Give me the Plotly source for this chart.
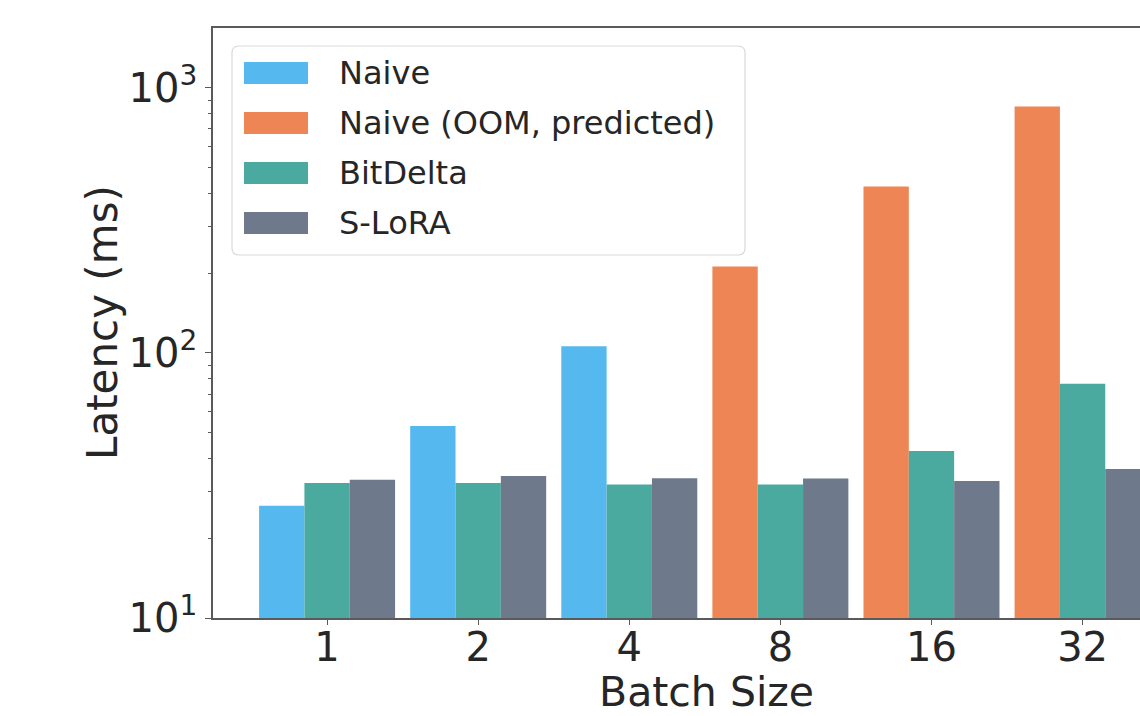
import plotly.graph_objects as go

batch_sizes = ["1", "2", "4", "8", "16", "32"]
naive = [26.5, 53.0, 106.0, None, None, None]
naive_oom = [None, None, None, 212.0, 425.0, 850.0]
bitdelta = [32.3, 32.3, 31.9, 31.9, 42.7, 76.5]
slora = [33.2, 34.3, 33.7, 33.6, 32.9, 36.5]

series_names = ["Naive", "Naive (OOM, predicted)", "BitDelta", "S-LoRA"]
series_colors = ["#55B9F0", "#EE8555", "#4BAA9F", "#6E7A8C"]

FONT = "DejaVu Sans"
TXT = "#262626"
W, H = 1140, 716
L, R, T, B = 213, 0, 28, 98

fig = go.Figure()
groups = ["a", "a", "b", "c"]
for name, vals, col, grp in zip(series_names, [naive, naive_oom, bitdelta, slora], series_colors, groups):
    fig.add_trace(go.Bar(x=batch_sizes, y=vals, name=name, marker=dict(color=col, line=dict(width=0)),
                         offsetgroup=grp, showlegend=False))

pw = W - L - R
ph = H - T - B
def px(x):
    return (x - L) / pw
def py(y):
    return (H - B - y) / ph

shapes = []
x0, x1, y0, y1 = px(232), px(745), py(255), py(46)
rx, ry = 7 / pw, 7 / ph
path = (f"M{x0+rx},{y1} L{x1-rx},{y1} Q{x1},{y1} {x1},{y1-ry} L{x1},{y0+ry} Q{x1},{y0} {x1-rx},{y0} "
        f"L{x0+rx},{y0} Q{x0},{y0} {x0},{y0+ry} L{x0},{y1-ry} Q{x0},{y1} {x0+rx},{y1} Z")
shapes.append(dict(type="path", xref="paper", yref="paper", path=path,
                   fillcolor="rgba(255,255,255,0.85)", line=dict(color="#d9d9d9", width=1.2), layer="above"))
annotations = []
row_y = [73, 123, 173, 223]
for name, col, yy in zip(series_names, series_colors, row_y):
    shapes.append(dict(type="rect", xref="paper", yref="paper", x0=px(244), x1=px(308),
                       y0=py(yy + 11), y1=py(yy - 11), fillcolor=col, line=dict(width=0), layer="above"))
    annotations.append(dict(xref="paper", yref="paper", x=px(337), y=py(yy), text=name, showarrow=False,
                            xanchor="left", yanchor="middle", font=dict(family=FONT, size=32, color=TXT)))

annotations.append(dict(xref="paper", yref="paper", x=px(706), y=py(692), text="Batch Size", showarrow=False,
                        xanchor="center", yanchor="middle", font=dict(family=FONT, size=41, color=TXT)))
annotations.append(dict(xref="paper", yref="paper", x=px(102), y=py(323), text="Latency (ms)", showarrow=False,
                        textangle=-90, xanchor="center", yanchor="middle",
                        font=dict(family=FONT, size=42, color=TXT)))

minor_vals = [v * m for v in (10, 100, 1000) for m in range(2, 10) if v * m <= 1700]

fig.update_layout(
    width=W, height=H,
    margin=dict(l=L, r=R, t=T, b=B, autoexpand=False),
    paper_bgcolor="white", plot_bgcolor="white",
    barmode="group", bargap=0.1, bargroupgap=0.0,
    font=dict(family=FONT, size=40, color=TXT),
    shapes=shapes, annotations=annotations,
    xaxis=dict(type="category", range=[-0.755, 5.38], showline=True, mirror=True, linecolor="#5a5a5a",
               linewidth=1.5, ticks="outside", ticklen=5, tickcolor="#5a5a5a", showgrid=False,
               automargin=False, ticklabelstandoff=-12,
               tickfont=dict(family=FONT, size=40, color=TXT)),
    yaxis=dict(type="log", range=[1, 3.226], showline=True, linecolor="#5a5a5a", linewidth=1.5,
               ticks="outside", ticklen=6, tickcolor="#5a5a5a", showgrid=False, zeroline=False,
               automargin=False,
               tickmode="array", tickvals=[10, 100, 1000],
               ticktext=["10<sup>1</sup>", "10<sup>2</sup>", "10<sup>3</sup>"],
               tickfont=dict(family=FONT, size=40, color=TXT),
               minor=dict(tickmode="array", tickvals=minor_vals, ticks="outside", ticklen=3,
                          tickcolor="#5a5a5a", showgrid=False)),
)

fig.write_html("out.html", config={"displayModeBar": False},
               post_script="document.body.style.margin='0px';document.body.style.overflow='hidden';")
